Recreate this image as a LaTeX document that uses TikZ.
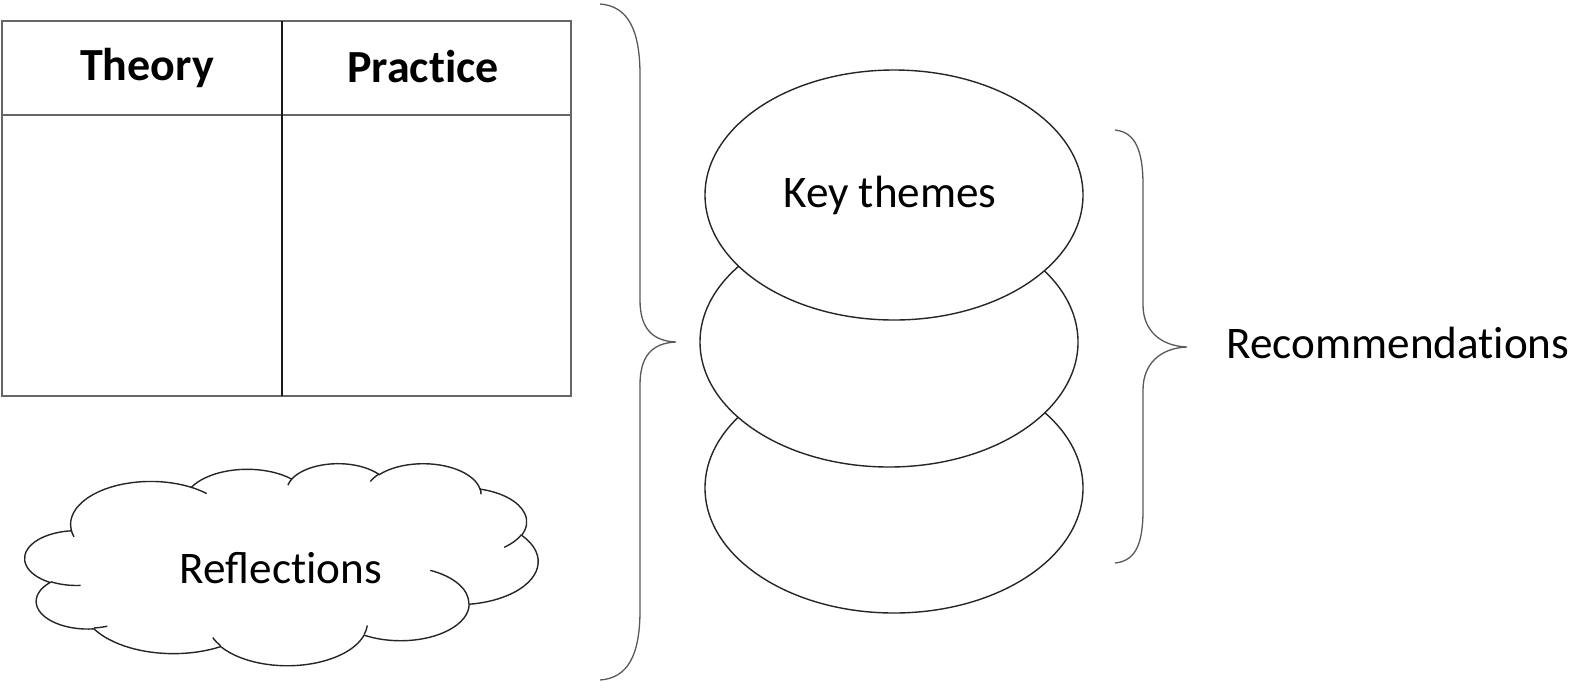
\documentclass[tikz,border=0pt]{standalone}
\usepackage{fontspec}
\setmainfont{Carlito}
\usetikzlibrary{shapes.geometric}
\newcommand\brk{\kern0pt}% keeps t and i apart, as in the picture
\tikzset{
  txt/.style={font=\fontsize{22.6}{27}\selectfont, inner sep=0pt},
  head/.style={txt, font=\fontsize{23}{27}\selectfont\bfseries},
  theme/.style={draw=black!85, fill=white, ellipse, line width=0.7pt,
    minimum width=189pt, minimum height=125pt, inner sep=0pt},
  brace/.style={draw=black!65, line width=0.65pt},
  grid line/.style={line width=0.65pt},
  declare function={pa(\ca,\cb,\cc)=atan2(\ca*sin(\cc),\cb*cos(\cc));}
}
\begin{document}
\begin{tikzpicture}[x=0.5pt, y=-0.5pt]
\useasboundingbox (0,0) rectangle (1594,698);
% table
\draw[grid line, black!60] (2,21) rectangle (571,396);
\draw[grid line, black!60] (2,115) -- (571,115);
\draw[grid line, black!90] (282,21) -- (282,396);
\node[head, anchor=base] (theory) at (147,80) {Theory};
\node[head, anchor=base] (practice) at (423,82) {Pract\brk ice};

% cloud
\begin{scope}[shift={(25,463)}, xscale=513/432, yscale=202/432, line width=0.7pt, black!85]
\draw[fill=white] (39.00,143.70) foreach \w/\h/\s/\d in {
  67.53/91.90/-190.4875/123.7805,
  53.33/72.67/-144.1024/89.9452,
  43.65/59.45/-145.8079/99.7230,
  48.57/65.95/-130.9861/117.2417,
  53.33/72.73/-78.7089/109.0269,
  67.75/92.20/-46.2673/130.2690,
  57.85/78.67/0.6250/114.0333,
  67.52/92.15/22.4516/115.1726,
  77.20/105.43/66.2426/75.7110,
  43.60/59.18/-274.9421/146.7356,
  43.45/59.45/-246.8285/152.5189}
  {arc[start angle={pa(\w,\h,\s)}, delta angle={mod(pa(\w,\h,\s+\d)-pa(\w,\h,\s)+720,360)}, x radius=\w, y radius=\h]} -- cycle;
% little hooks
\foreach \x/\y/\w/\h/\s/\d in {
  46.93/261.77/43.45/59.45/86.742/26.4295,
  69.28/348.99/43.60/59.18/73.6105/11.4475,
  164.78/390.90/67.52/92.15/137.6242/14.0811,
  288.27/347.51/67.52/92.15/6.4533/15.9984,
  341.29/229.54/57.85/78.67/-70.2924/70.9174,
  417.98/153.54/53.33/72.73/30.3180/27.7515,
  383.24/54.26/48.57/65.95/-13.7443/14.8589,
  290.78/39.52/48.57/65.95/-149.1815/18.1954,
  221.41/47.20/43.65/59.45/-163.4943/17.6864,
  140.00/51.92/67.53/91.90/-66.7070/12.3194,
  41.27/157.89/67.53/91.90/157.6544/11.8582}
  \draw (\x,\y) arc[start angle={pa(\w,\h,\s)}, delta angle={mod(pa(\w,\h,\s+\d)-pa(\w,\h,\s)+720,360)}, x radius=\w, y radius=\h];
\end{scope}
\node[txt, anchor=base] (reflections) at (281,583) {Reflect\brk ions};

% key themes stack
\node[theme] (themeC) at (894,488) {};
\node[theme] (themeB) at (889,342) {};
\node[theme] (themeA) at (894,195) {};
\node[txt] (keythemes) at (890,195) {Key themes};

% braces
\draw[brace] (600,4) .. controls (628,6) and (640,30) .. (640,75) -- (640,300)
  .. controls (640,328) and (652,341) .. (676,342)
  .. controls (652,343) and (640,356) .. (640,385) -- (640,610)
  .. controls (640,655) and (628,678) .. (600,680);
\draw[brace] (1115,130) .. controls (1135,132) and (1143,150) .. (1143,185) -- (1143,305)
  .. controls (1143,330) and (1160,346) .. (1187,347)
  .. controls (1160,348) and (1143,364) .. (1143,390) -- (1143,510)
  .. controls (1143,545) and (1135,561) .. (1115,563);
\node[txt, anchor=base west] (recs) at (1226,358) {Recommendat\brk ions};
\end{tikzpicture}
\end{document}
